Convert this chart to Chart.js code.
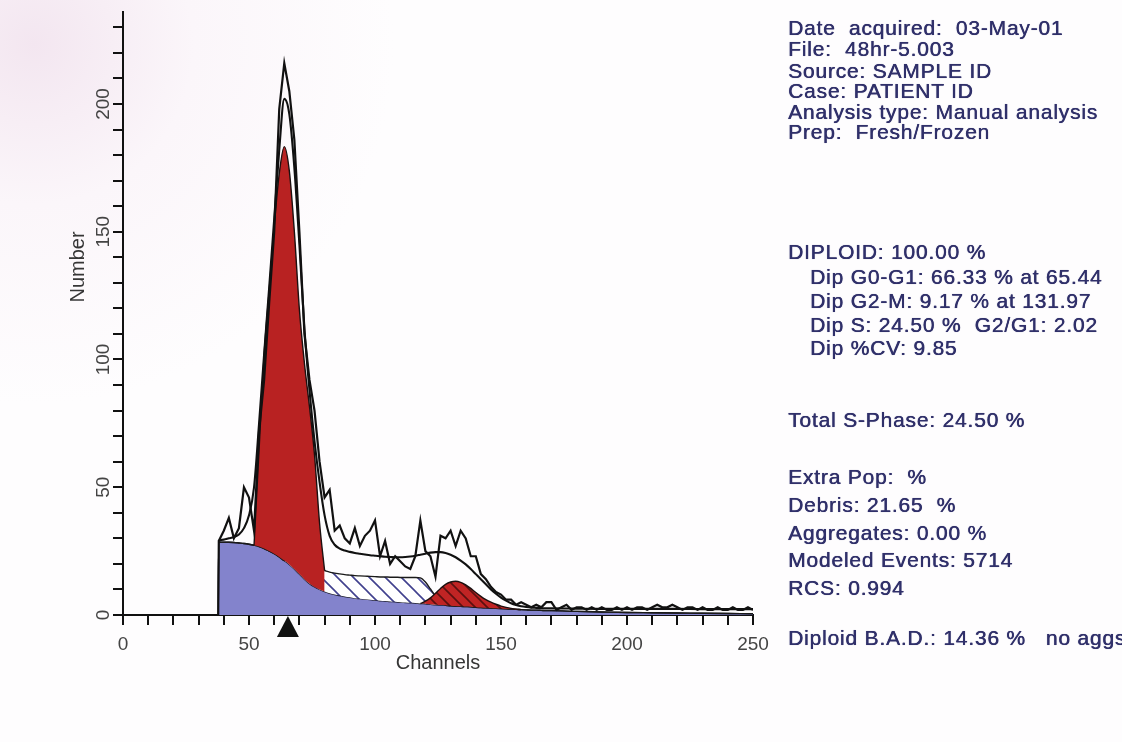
<!DOCTYPE html>
<html>
<head>
<meta charset="utf-8">
<script src="https://cdn.jsdelivr.net/npm/chart.js@4.4.1/dist/chart.umd.min.js"></script>
<style>
html,body{margin:0;padding:0;width:1122px;height:742px;overflow:hidden;}
body{background:radial-gradient(circle at 3% 6%, #f3e6f0 0px, #fbf6fa 160px, #fefdfe 360px);}
#c{position:absolute;left:0;top:0;}
.info{position:absolute;font-family:"Liberation Sans",Arial,sans-serif;font-size:21px;line-height:24px;height:24px;color:#30306a;letter-spacing:0.8px;white-space:pre;text-shadow:0.4px 0 0 #30306a, 0 0 1px rgba(48,48,106,0.45);}
</style>
</head>
<body>
<canvas id="c" width="1122" height="742"></canvas>
<script>
// ---------- DATA ----------
const rawChannels = [38,40,42,44,46,48,50,52,54,56,58,60,62,64,66,68,70,72,74,76,78,80,82,84,86,88,90,92,94,96,98,
  100,102,104,106,108,110,112,114,116,118,120,122,124,126,128,130,132,134,136,138,140,142,144,146,148,
  150,152,154,156,158,160,162,164,166,168,170,172,174,176,178,180,182,184,186,188,190,192,194,196,198,
  200,202,204,206,208,210,212,214,216,218,220,222,224,226,228,230,232,234,236,238,240,242,244,246,248,250];
const rawCounts = [29,33,38,30,34,50, 46,33,72,92,122, 150,198,216,205,186, 150,110,92,80,60,
  46,49,33,35,30, 28,34,27,31,33, 37,23,29,20,23, 21,19,18,23,37, 25,23,15,31,30, 33,27,33,30,23,
  23,16,14,11,9, 8,6,6,4,5, 4,3,4,3,5, 5,2,3,4,2, 3,3,2,3,2, 3,2,2,3,2, 3,2,3,3,2, 3,4,3,3,4,
  3,2,3,3,2, 3,2,2,3,2, 2,3,2,2,3, 2];

const modelChannels = [37.8, 38,40,42,44,46,48,50,52,54,56,58,60,62,64,66,68,70,72,74,76,78,80,82,84,86,88,90,92,94,96,98,
  100,102,104,106,108,110,112,114,116,118,120,122,124,126,128,130,132,134,136,138,140,142,144,146,148,
  150,152,154,156,158,160,162,164,166,168,170, 180,190,200,210,220,230,240,250];
const debris = [0, 28.5,28.5,28.5,28.4,28.2,28, 27.7,27.3,26.8,26,25, 24,22.7,21.3,19.8,18, 16,14,12.3,11,10,
  9.2,8.5,8,7.6,7.2, 6.9,6.6,6.4,6.2,6, 5.8,5.6,5.5,5.3,5.2, 5,4.9,4.8,4.7,4.5, 4.4,4.2,4,3.9,3.8,
  3.6,3.5,3.4,3.3,3.2, 3,2.9,2.8,2.7,2.6, 2.5,2.4,2.3,2.2,2.1, 2,1.9,1.9,1.8,1.7, 1.7,
  1.4,1.2,1,0.9,0.8,0.7,0.6,0.5];
const sPhase = [0, 0,0,0,0,0,0, 0,0,0,0,0, 0,0,0,2,4, 5.5,6.5,7.2,7.6,8, 8.2,8.3,8.4,8.5,8.6,
  8.7,8.8,8.9,9,9.1, 9.2,9.3,9.4,9.5,9.6, 9.7,9.8,9.9,10,10, 8.5,6,3.5,1.5,0,
  0,0,0,0,0, 0,0,0,0,0, 0,0,0,0,0, 0,0,0,0,0, 0, 0,0,0,0,0,0,0,0];
const g1Peak = [0, 0,0,0,0,0,0, 0,0,38,76,102, 128,150,162,152,128, 98,78,62,44,18, 0,0,0,0,0,
  0,0,0,0,0, 0,0,0,0,0, 0,0,0,0,0, 0,0,0,0,0, 0,0,0,0,0, 0,0,0,0,0, 0,0,0,0,0, 0,0,0,0,0, 0,
  0,0,0,0,0,0,0,0];
const g2Peak = [0, 0,0,0,0,0,0, 0,0,0,0,0, 0,0,0,0,0, 0,0,0,0,0, 0,0,0,0,0, 0,0,0,0,0, 0,0,0,0,0,
  0,0,0,0,0, 1,2.5,4.5,6.5,8.2, 9.3,9.7,9.4,8.5,7.2, 5.8,4.4,3.2,2.3,1.6, 1,0.6,0.3,0.1,0,
  0,0,0,0,0, 0, 0,0,0,0,0,0,0,0];
const fitCurve = [0, 29,29.5,30,30.5,31.5,34, 39,50,75,102,128, 155,182,202,196,175, 145,112,88,68,52,
  39,31,27.5,26,25.2, 24.7,24.3,24,23.7,23.4, 23.2,23,22.8,22.7,22.6, 22.6,22.7,22.9,23.2,23.6,
  24,24.4,24.6,24.6,24.3, 23.6,22.6,21.3,19.8,18, 16,14,12,10,8.3, 6.8,5.6,4.6,3.9,3.4,
  3.1,2.9,2.8,2.7,2.6, 2.6, 2.5,2.4,2.4,2.4,2.4,2.3,2.3,2.3];
const g1Mean = 65.44;
const xLabelValues = [0, 50, 100, 150, 200, 250];
const yLabelValues = [0, 50, 100, 150, 200];
const xTitle = 'Channels';
const yTitle = 'Number';

const infoLines = [
  'Date  acquired:  03-May-01',
  'File:  48hr-5.003',
  'Source: SAMPLE ID',
  'Case: PATIENT ID',
  'Analysis type: Manual analysis',
  'Prep:  Fresh/Frozen',
  'DIPLOID: 100.00 %',
  'Dip G0-G1: 66.33 % at 65.44',
  'Dip G2-M: 9.17 % at 131.97',
  'Dip S: 24.50 %  G2/G1: 2.02',
  'Dip %CV: 9.85',
  'Total S-Phase: 24.50 %',
  'Extra Pop:  %',
  'Debris: 21.65  %',
  'Aggregates: 0.00 %',
  'Modeled Events: 5714',
  'RCS: 0.994',
  'Diploid B.A.D.: 14.36 %   no aggs'
];
// layout of the text block (centre y, left x)
const infoCenters = [28,49,71,91,112,132, 252,277,301,325,348, 420, 477,505,533,560,588, 638];
const infoLefts = [788,788,788,788,788,788, 788,810,810,810,810, 788, 788,788,788,788,788, 788];

infoLines.forEach((t, i) => {
  const d = document.createElement('div');
  d.className = 'info';
  d.textContent = t;
  d.style.left = infoLefts[i] + 'px';
  d.style.top = (infoCenters[i] - 12) + 'px';
  document.body.appendChild(d);
});

// ---------- BUILD ----------
const near = (arr, i) => arr[i] > 0 || arr[i - 1] > 0 || arr[i + 1] > 0;
const sTop = debris.map((v, i) => v + sPhase[i]);
const g1Top = debris.map((v, i) => near(g1Peak, i) ? v + sPhase[i] + g1Peak[i] : null);
const g2Top = debris.map((v, i) => near(g2Peak, i) ? v + g2Peak[i] : null);
const pts = (xs, ys) => xs.map((x, i) => ({x: x, y: ys[i]}));

function hatch(bg, fg, size, lw) {
  const c = document.createElement('canvas');
  c.width = size; c.height = size;
  const g = c.getContext('2d');
  g.fillStyle = bg; g.fillRect(0, 0, size, size);
  g.strokeStyle = fg; g.lineWidth = lw;
  g.beginPath();
  g.moveTo(-2, -2); g.lineTo(size + 2, size + 2);
  g.moveTo(-2, size - 2); g.lineTo(2, size + 2);
  g.moveTo(size - 2, -2); g.lineTo(size + 2, 2);
  g.stroke();
  return g.createPattern(c, 'repeat');
}
const sPattern = hatch('#ffffff', '#41418e', 16, 1.6);
const g2Pattern = hatch('#c02424', '#5a1010', 12, 1.6);

const FONT = '"Liberation Sans", Arial, sans-serif';
const INK = '#111';

const overlay = {
  id: 'overlay',
  afterDraw(chart) {
    const ctx = chart.ctx;
    const xs = chart.scales.x, ys = chart.scales.y;
    ctx.save();
    ctx.fillStyle = '#444';
    ctx.font = '19px ' + FONT;
    ctx.textAlign = 'center';
    ctx.textBaseline = 'middle';
    yLabelValues.forEach(v => {
      const y = ys.getPixelForValue(v);
      ctx.save();
      ctx.translate(ys.right - 19, y);
      ctx.rotate(-Math.PI / 2);
      ctx.fillText(String(v), 0, 0);
      ctx.restore();
    });
    ctx.fillStyle = '#363636';
    ctx.font = '20px ' + FONT;
    ctx.save();
    ctx.translate(ys.right - 45, ys.top + 255);
    ctx.rotate(-Math.PI / 2);
    ctx.fillText(yTitle, 0, 0);
    ctx.restore();
    ctx.fillText(xTitle, (xs.left + xs.right) / 2, xs.top + 48);
    const mx = xs.getPixelForValue(g1Mean);
    const top = xs.top + 1;
    ctx.fillStyle = INK;
    ctx.beginPath();
    ctx.moveTo(mx, top);
    ctx.lineTo(mx + 11, top + 21);
    ctx.lineTo(mx - 11, top + 21);
    ctx.closePath();
    ctx.fill();
    ctx.restore();
  }
};

new Chart(document.getElementById('c'), {
  type: 'line',
  data: {
    datasets: [
      {label: 'Data', data: pts(rawChannels, rawCounts), borderColor: INK, borderWidth: 2.2,
       pointRadius: 0, fill: false, tension: 0, order: 0},
      {label: 'Fit', data: pts(modelChannels, fitCurve), borderColor: INK, borderWidth: 2.1,
       pointRadius: 0, fill: false, cubicInterpolationMode: 'monotone', order: 1},
      {label: 'Dip G1', data: pts(modelChannels, g1Top), borderColor: '#1c1010', borderWidth: 1.4,
       backgroundColor: '#b82222', pointRadius: 0, fill: 5, spanGaps: false, cubicInterpolationMode: 'monotone', order: 2},
      {label: 'Dip G2', data: pts(modelChannels, g2Top), borderColor: '#1c1010', borderWidth: 1.4,
       backgroundColor: g2Pattern, pointRadius: 0, fill: 5, spanGaps: false, cubicInterpolationMode: 'monotone', order: 3},
      {label: 'Dip S', data: pts(modelChannels, sTop), borderColor: '#1a1a1a', borderWidth: 1.4,
       backgroundColor: sPattern, pointRadius: 0, fill: 5, cubicInterpolationMode: 'monotone', order: 4},
      {label: 'Debris', data: pts(modelChannels, debris), borderColor: '#1a1a2a', borderWidth: 1.4,
       backgroundColor: '#8383cc', pointRadius: 0, fill: 'origin', cubicInterpolationMode: 'monotone', order: 5}
    ]
  },
  options: {
    responsive: false,
    animation: false,
    devicePixelRatio: 1,
    layout: {padding: {top: 12, right: 369, bottom: 0, left: 0}},
    plugins: {legend: {display: false}, tooltip: {enabled: false}},
    scales: {
      x: {
        type: 'linear', min: 0, max: 250, position: 'bottom',
        ticks: {stepSize: 10, autoSkip: false, maxRotation: 0, minRotation: 0, padding: 8,
          color: '#444', font: {family: FONT, size: 19},
          callback: v => xLabelValues.includes(v) ? String(v) : ''},
        grid: {drawOnChartArea: false, drawTicks: true, tickLength: 10, color: INK, lineWidth: 2},
        border: {display: true, color: INK, width: 2},
        afterFit: s => { s.height = 127; s.paddingLeft = 0; s.paddingRight = 0; }
      },
      y: {
        type: 'linear', min: 0, max: 236, position: 'left',
        ticks: {stepSize: 10, includeBounds: false, display: false},
        grid: {drawOnChartArea: false, drawTicks: true, tickLength: 10, color: INK, lineWidth: 2},
        border: {display: true, color: INK, width: 2},
        afterFit: s => { s.width = 123; s.paddingTop = 0; s.paddingBottom = 0; }
      }
    }
  },
  plugins: [overlay]
});
</script>
</body>
</html>
